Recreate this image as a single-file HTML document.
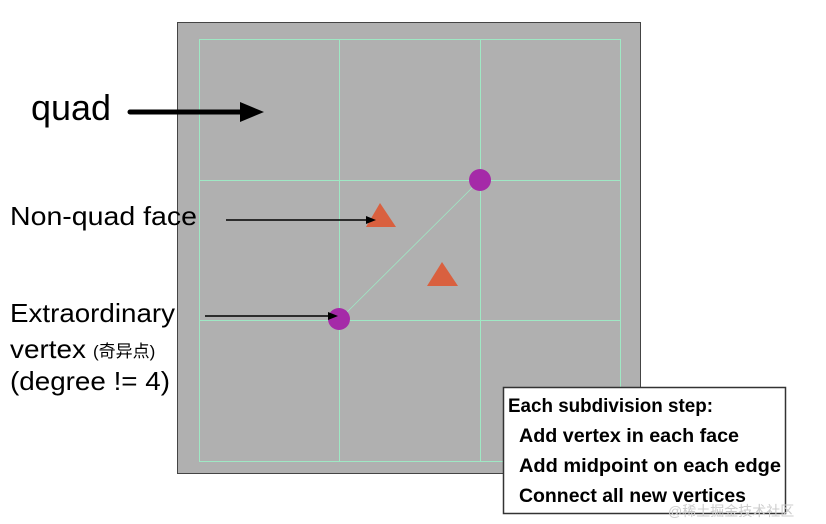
<!DOCTYPE html>
<html><head><meta charset="utf-8"><style>html,body{margin:0;padding:0;background:#fff;width:826px;height:524px;overflow:hidden}</style></head>
<body>
<svg width="826" height="524" viewBox="0 0 826 524" xmlns="http://www.w3.org/2000/svg" font-family="Liberation Sans, Noto Sans CJK SC, sans-serif">
<rect x="177.5" y="22.5" width="463" height="451" fill="#b0b0b0" stroke="#444" stroke-width="1"/>
<g stroke="#9fe8c4" stroke-width="1" fill="none">
<rect x="199.5" y="39.5" width="421" height="422"/>
<line x1="339.5" y1="39" x2="339.5" y2="462"/>
<line x1="480.5" y1="39" x2="480.5" y2="462"/>
<line x1="199" y1="180.5" x2="621" y2="180.5"/>
<line x1="199" y1="320.5" x2="621" y2="320.5"/>
<line x1="339" y1="320" x2="480" y2="180" stroke-width="0.8"/>
</g>
<circle cx="480" cy="180" r="11" fill="#a52aa8"/>
<circle cx="339" cy="319" r="11" fill="#a52aa8"/>
<polygon points="380,203 366,227 396,227" fill="#d9603f"/>
<polygon points="442,262 427,286 458,286" fill="#d9603f"/>
<line x1="130" y1="112" x2="245" y2="112" stroke="#000" stroke-width="5" stroke-linecap="round"/>
<polygon points="240,102 264,112 240,122" fill="#000"/>
<line x1="226" y1="220" x2="370" y2="220" stroke="#000" stroke-width="1.5"/>
<polygon points="366,216 376,220 366,224" fill="#000"/>
<line x1="205" y1="316" x2="332" y2="316" stroke="#000" stroke-width="1.5"/>
<polygon points="328,312 338,316 328,320" fill="#000"/>
<g fill="#000" lengthAdjust="spacingAndGlyphs">
<text x="31" y="120" font-size="36" textLength="80" lengthAdjust="spacingAndGlyphs">quad</text>
<text x="10" y="225" font-size="26" textLength="187" lengthAdjust="spacingAndGlyphs">Non-quad face</text>
<text x="10" y="322" font-size="26" textLength="165" lengthAdjust="spacingAndGlyphs">Extraordinary</text>
<text x="10" y="358" font-size="26" textLength="76" lengthAdjust="spacingAndGlyphs">vertex</text>
<text x="93" y="357" font-size="17">(奇异点)</text>
<text x="10" y="390" font-size="26" textLength="160" lengthAdjust="spacingAndGlyphs">(degree != 4)</text>
</g>
<rect x="503.5" y="387.5" width="282" height="126" fill="#fff" stroke="#333" stroke-width="1.5"/>
<g font-size="19" font-weight="bold" fill="#000">
<text x="508" y="412" textLength="205" lengthAdjust="spacingAndGlyphs">Each subdivision step:</text>
<text x="519" y="442" textLength="220" lengthAdjust="spacingAndGlyphs">Add vertex in each face</text>
<text x="519" y="472" textLength="262" lengthAdjust="spacingAndGlyphs">Add midpoint on each edge</text>
<text x="519" y="502" textLength="227" lengthAdjust="spacingAndGlyphs">Connect all new vertices</text>
</g>
<text x="668" y="516" font-size="14" fill="#ccc">@稀土掘金技术社区</text>
</svg>
</body></html>
